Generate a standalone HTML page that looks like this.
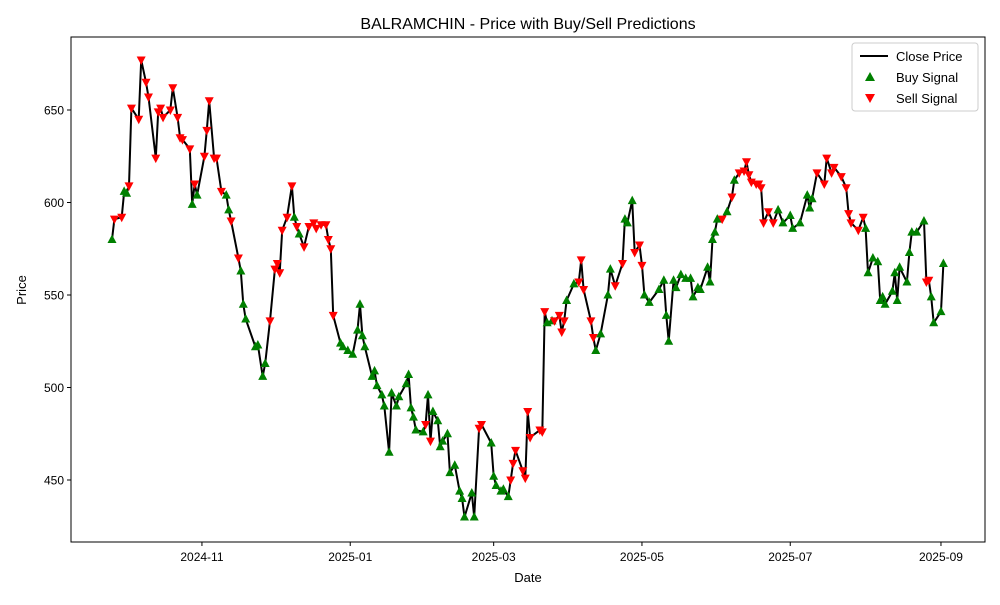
<!DOCTYPE html>
<html><head><meta charset="utf-8"><style>
body{margin:0;background:#fff;font-family:"Liberation Sans","DejaVu Sans",sans-serif}
svg text{font-family:"Liberation Sans","DejaVu Sans",sans-serif}
</style></head><body>
<svg id="chart" width="1000" height="600" xmlns="http://www.w3.org/2000/svg">
<rect width="1000" height="600" fill="#fff"/>
<text x="528" y="29" font-size="16" text-anchor="middle">BALRAMCHIN - Price with Buy/Sell Predictions</text>
<g id="plot"></g>
<rect x="71" y="37" width="914" height="505" fill="none" stroke="#000" stroke-width="1"/>
<text x="528" y="582" font-size="13" text-anchor="middle">Date</text>
<text x="26" y="290" font-size="13" text-anchor="middle" transform="rotate(-90 26 290)">Price</text>
<g>
<rect x="852" y="43" width="126" height="68" fill="#fff" stroke="#ccc" rx="3"/>
<line x1="860" y1="56" x2="888" y2="56" stroke="#000" stroke-width="2"/>
<text x="896" y="61" font-size="13">Close Price</text>
<polygon points="870,72 875,81 865,81" fill="#008000"/>
<text x="896" y="82" font-size="13">Buy Signal</text>
<polygon points="865,94 875,94 870,103" fill="#ff0000"/>
<text x="896" y="103" font-size="13">Sell Signal</text>
</g>
</svg>
<script>
const startDate = "2024-09-25";
const dayOffsets = [0,1,4,5,6,7,8,11,12,14,15,18,19,20,21,24,25,27,28,29,32,33,34,35,38,39,40,42,43,45,47,48,49,52,53,54,55,59,60,62,63,65,67,68,69,70,72,74,75,76,77,79,81,83,84,86,88,89,90,91,94,95,97,99,101,102,103,104,107,108,109,111,112,114,115,117,118,121,122,123,124,125,128,129,130,131,132,134,135,136,138,139,141,143,144,145,148,149,151,152,156,157,158,160,161,163,164,165,166,169,170,171,172,176,177,178,179,181,182,184,185,186,187,190,192,193,194,197,198,199,201,204,205,207,210,211,212,214,215,217,218,219,221,225,227,228,229,231,232,234,236,238,239,241,242,245,246,247,248,249,251,253,255,256,258,260,261,262,263,265,266,267,268,270,272,274,276,279,280,283,286,287,288,290,293,294,296,297,300,302,303,304,307,309,310,311,313,315,316,317,318,321,322,323,324,327,328,329,331,334,335,336,337,338,341,342];
const closePrices = [580,591,592,606,605,609,651,645,677,665,657,624,649,651,646,650,662,646,635,634,629,599,610,604,625,639,655,624,624,606,604,596,590,570,563,545,537,522,523,506,513,536,564,567,562,585,592,609,592,587,583,576,587,589,586,588,588,580,575,539,524,522,520,518,531,545,528,522,506,509,501,496,490,465,497,490,495,502,507,489,484,477,476,480,496,471,487,482,468,471,475,454,458,444,440,430,443,430,478,480,470,452,447,444,445,441,450,459,466,455,451,487,473,477,476,541,535,536,536,539,530,536,547,556,557,569,553,536,527,520,529,550,564,555,567,591,589,601,573,577,566,550,546,553,558,539,525,558,554,561,559,559,549,554,553,565,557,580,584,591,591,595,603,612,616,617,622,615,611,610,610,608,589,595,589,596,589,593,586,589,604,597,602,616,610,624,616,619,614,608,594,589,585,592,586,562,570,568,547,549,545,552,562,547,565,557,573,584,584,590,557,558,549,535,541,567];
const signals = "BSSBBSSSSSSSSSSSSSSSSBSBSSSSSSBBSSBBBBBBBSSSSSSSBSBSSSSSSSSSBBBBBBBBBBBBBBBBBBBBBBBSBSBBBBBBBBBBBBSSBBBBBBSSSSSSSSSSBBSSSSBBSSSSSBBBBSSBBBSSSBBBBBBBBBBBBBBBBBBBSBSBSSSSSSSSSSSBBBBBBBBSSSSSSSSSSSBBBBBBBBBBBBBBBBSSBBBBBBBS".split("");
const yTicks = [450,500,550,600,650];
const xTickLabels = ["2024-11","2025-01","2025-03","2025-05","2025-07","2025-09"];
const xTickDates = ["2024-11-01","2025-01-01","2025-03-01","2025-05-01","2025-07-01","2025-09-01"];

const NS="http://www.w3.org/2000/svg";
const plot=document.getElementById('plot');
const t0=Date.parse(startDate);
function dayOf(s){return (Date.parse(s)-t0)/86400000;}
function xs(d){return 112+d*2.431;}
function ys(v){return 480-(v-450)*1.85;}
function mk(tag,attrs){const e=document.createElementNS(NS,tag);for(const k in attrs)e.setAttribute(k,attrs[k]);plot.appendChild(e);return e;}

yTicks.forEach(v=>{
  const y=ys(v);
  const l=mk('line',{x1:67,x2:71,y1:y,y2:y,stroke:'#000'});
  
  
  const t=mk('text',{x:64,y:y+4.5,'font-size':12,'text-anchor':'end'});
  t.textContent=v;
  
  
});
xTickDates.forEach((s,i)=>{
  const x=xs(dayOf(s));
  const l=mk('line',{x1:x,x2:x,y1:542,y2:546,stroke:'#000'});
  
  
  const t=mk('text',{x:x,y:561,'font-size':12,'text-anchor':'middle'});
  t.textContent=xTickLabels[i];
  
  
});
const pts=dayOffsets.map((d,i)=>xs(d).toFixed(1)+','+ys(closePrices[i]).toFixed(1)).join(' ');
const line=mk('polyline',{points:pts,fill:'none',stroke:'#000','stroke-width':2,'stroke-linejoin':'round'});


dayOffsets.forEach((d,i)=>{
  const x=xs(d),y=ys(closePrices[i]);
  let p;
  if(signals[i]==='B'){
    p=mk('polygon',{points:`${x},${y-5} ${x+4.5},${y+3.5} ${x-4.5},${y+3.5}`,fill:'#008000'});
    
  } else {
    p=mk('polygon',{points:`${x-4.5},${y-3.5} ${x+4.5},${y-3.5} ${x},${y+5}`,fill:'#ff0000'});
    
  }
  
});
</script>
</body></html>
